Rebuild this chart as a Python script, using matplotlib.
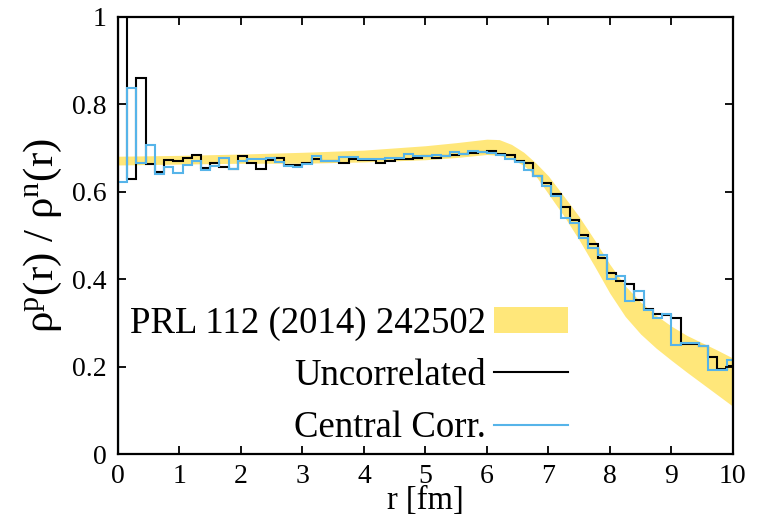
import numpy as np
import matplotlib
matplotlib.use('Agg')
import matplotlib.pyplot as plt
from matplotlib.patches import Patch
from matplotlib.lines import Line2D

plt.rcParams['font.family'] = ['Liberation Serif', 'DejaVu Serif']
plt.rcParams['mathtext.fontset'] = 'custom'
plt.rcParams['mathtext.rm'] = 'Liberation Serif'
plt.rcParams['mathtext.it'] = 'Liberation Serif:italic'

# histogram bins of 0.15 fm
bin_width = 0.15
n_bins = 67

uncorrelated = [
    1.20, 0.630, 0.860, 0.663, 0.645, 0.672, 0.670, 0.678, 0.684, 0.653,
    0.666, 0.656, 0.652, 0.681, 0.665, 0.652, 0.672, 0.678, 0.661, 0.660,
    0.666, 0.675, 0.671, 0.669, 0.666, 0.674, 0.672, 0.672, 0.665, 0.669,
    0.674, 0.674, 0.676, 0.682, 0.676, 0.682, 0.684, 0.685, 0.689, 0.691,
    0.693, 0.687, 0.684, 0.670, 0.666, 0.636, 0.619, 0.595, 0.566, 0.535,
    0.501, 0.481, 0.448, 0.414, 0.397, 0.389, 0.353, 0.331, 0.321, 0.318,
    0.311, 0.252, 0.252, 0.248, 0.222, 0.195, 0.202,
]

central_corr = [
    0.623, 0.837, 0.665, 0.707, 0.640, 0.656, 0.643, 0.661, 0.670, 0.650,
    0.659, 0.678, 0.651, 0.671, 0.674, 0.675, 0.676, 0.667, 0.659, 0.656,
    0.663, 0.681, 0.671, 0.669, 0.679, 0.680, 0.674, 0.674, 0.674, 0.676,
    0.677, 0.685, 0.681, 0.681, 0.684, 0.682, 0.691, 0.687, 0.694, 0.690,
    0.689, 0.684, 0.674, 0.668, 0.650, 0.636, 0.613, 0.590, 0.541, 0.529,
    0.494, 0.471, 0.455, 0.401, 0.408, 0.350, 0.373, 0.330, 0.311, 0.320,
    0.250, 0.255, 0.255, 0.248, 0.193, 0.193, 0.216,
]

# PRL 112 (2014) 242502 band
band_r     = [0.0, 1.0, 2.0, 3.0, 4.0, 5.0, 5.5, 6.0, 6.2, 6.4, 6.6, 6.8, 7.0, 7.25, 7.5, 7.75, 8.0, 8.25, 8.5, 8.75, 9.0, 9.25, 9.5, 9.75, 10.0]
band_upper = [0.681, 0.683, 0.686, 0.690, 0.695, 0.705, 0.712, 0.720, 0.719, 0.708, 0.690, 0.665, 0.636, 0.590, 0.543, 0.490, 0.434, 0.385, 0.348, 0.318, 0.293, 0.272, 0.255, 0.238, 0.220]
band_lower = [0.661, 0.663, 0.665, 0.665, 0.668, 0.673, 0.678, 0.685, 0.683, 0.675, 0.660, 0.635, 0.595, 0.545, 0.490, 0.430, 0.368, 0.315, 0.275, 0.243, 0.215, 0.188, 0.162, 0.136, 0.110]

edges = np.arange(n_bins + 1) * bin_width

fig = plt.figure(figsize=(7.69, 5.17), dpi=100)
ax = fig.add_axes([0.1534, 0.121, 0.7996, 0.847])

band_color = '#ffe77a'
blue = '#56b4e9'

ax.fill_between(band_r, band_lower, band_upper, color=band_color, lw=0)
ax.stairs(uncorrelated, edges, color='black', lw=1.5)
ax.stairs(central_corr, edges, color=blue, lw=1.5)

ax.set_xlim(0, 10)
ax.set_ylim(0, 1)
ax.set_xticks(range(0, 11))
ax.set_yticks([0, 0.2, 0.4, 0.6, 0.8, 1.0])
ax.set_yticklabels(['0', '0.2', '0.4', '0.6', '0.8', '1'])
ax.tick_params(direction='in', top=True, right=True, length=6, width=1.3,
               labelsize=20)
ax.tick_params(axis='x', pad=7)
ax.tick_params(axis='y', pad=8)
for s in ax.spines.values():
    s.set_linewidth(1.6)

ax.set_xlabel('r [fm]', fontsize=23.5, va='bottom')
ax.xaxis.set_label_coords(0.5, -0.14)
ax.set_ylabel(r'ρ$^{\rm p}$(r) / ρ$^{\rm n}$(r)', fontsize=31, labelpad=6)

handles = [
    Patch(facecolor=band_color, edgecolor='none'),
    Line2D([], [], color='black', lw=1.5),
    Line2D([], [], color=blue, lw=1.5),
]
labels = ['PRL 112 (2014) 242502', 'Uncorrelated', 'Central Corr.']
ax.legend(handles, labels, loc='center right', markerfirst=False,
          bbox_to_anchor=(568 / 769, 1 - 376 / 517), bbox_transform=fig.transFigure,
          frameon=False, fontsize=26.5, handlelength=2.0, handletextpad=0.22,
          labelspacing=0.48, borderpad=0, borderaxespad=0)

fig.savefig('out.png', dpi=100)
